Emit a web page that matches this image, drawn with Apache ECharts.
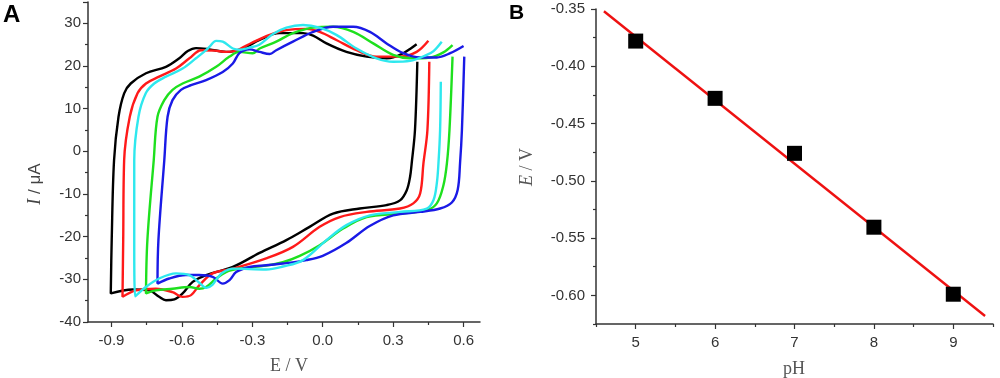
<!DOCTYPE html>
<html>
<head>
<meta charset="utf-8">
<script src="https://cdn.jsdelivr.net/npm/echarts@6/dist/echarts.min.js"></script>
<style>
html,body{margin:0;padding:0;background:#fff;}
#chart{width:1000px;height:378px;}
</style>
</head>
<body>
<div id="chart"></div>
<script>
// ---------- Panel A: cyclic voltammograms (E / V, I / uA) ----------
var cvBlack = [[0.40,25.1],[0.372,24.0],[0.343,23.0],[0.30,22.0],[0.272,21.8],[0.187,22.2],[0.101,23.3],[0.016,25.3],[-0.041,27.1],[-0.084,27.7],[-0.184,27.7],[-0.269,26.1],[-0.34,24.1],[-0.412,23.3],[-0.483,23.9],[-0.54,24.2],[-0.575,23.5],[-0.611,21.8],[-0.668,19.8],[-0.753,18.3],[-0.818,15.9],[-0.846,13.6],[-0.87,8.1],[-0.889,-2.1],[-0.899,-20.8],[-0.903,-33.3],
  [-0.81,-32.4],[-0.739,-32.6],[-0.697,-34.1],[-0.668,-34.9],[-0.632,-34.7],[-0.597,-33.3],[-0.554,-30.6],[-0.497,-29.0],[-0.383,-27.1],[-0.269,-23.8],[-0.155,-20.8],[-0.056,-17.7],[0.044,-14.6],[0.158,-13.4],[0.272,-12.6],[0.329,-11.5],[0.358,-9.1],[0.372,-6.0],[0.379,-2.8],[0.393,5.0],[0.403,21.0]];
var cvRed = [[0.45,25.9],[0.40,23.3],[0.329,22.2],[0.229,22.2],[0.144,23.7],[0.058,26.1],[-0.013,28.0],[-0.07,28.7],[-0.155,28.4],[-0.226,27.3],[-0.30,25.5],[-0.369,23.6],[-0.412,23.3],[-0.46,23.6],[-0.518,23.7],[-0.568,21.8],[-0.625,19.4],[-0.697,17.5],[-0.753,15.9],[-0.789,13.6],[-0.822,8.1],[-0.846,-2.1],[-0.85,-20.8],[-0.853,-34.1],
  [-0.796,-32.6],[-0.711,-32.2],[-0.64,-33.0],[-0.597,-34.1],[-0.561,-33.7],[-0.526,-31.4],[-0.469,-28.6],[-0.383,-27.5],[-0.241,-25.1],[-0.127,-22.4],[-0.013,-17.7],[0.073,-15.4],[0.187,-14.2],[0.329,-13.4],[0.386,-12.2],[0.415,-9.9],[0.429,-2.8],[0.446,5.0],[0.454,21.0]];
var cvGreen = [[0.553,24.9],[0.514,23.2],[0.457,22.0],[0.372,21.8],[0.30,22.6],[0.215,25.3],[0.13,28.0],[0.044,29.2],[-0.041,29.0],[-0.127,27.7],[-0.198,25.7],[-0.269,24.1],[-0.298,23.0],[-0.355,23.3],[-0.397,22.2],[-0.454,19.8],[-0.526,17.5],[-0.597,15.9],[-0.64,14.4],[-0.675,12.0],[-0.704,8.1],[-0.72,-2.1],[-0.747,-20.8],[-0.753,-33.3],
  [-0.711,-32.6],[-0.64,-32.2],[-0.568,-31.8],[-0.526,-32.2],[-0.497,-31.8],[-0.454,-29.8],[-0.412,-28.3],[-0.355,-27.5],[-0.241,-26.8],[-0.17,-26.0],[-0.098,-24.5],[-0.013,-22.0],[0.087,-18.1],[0.187,-15.4],[0.329,-14.6],[0.443,-13.8],[0.486,-12.2],[0.514,-8.0],[0.529,-2.8],[0.54,5.0],[0.553,22.2]];
var cvBlue = [[0.60,24.7],[0.543,23.0],[0.486,22.0],[0.415,22.0],[0.343,23.0],[0.272,25.3],[0.201,28.0],[0.13,29.2],[0.044,29.2],[-0.041,28.0],[-0.127,25.7],[-0.198,23.7],[-0.226,22.8],[-0.269,23.3],[-0.312,23.9],[-0.355,23.0],[-0.383,20.6],[-0.426,18.6],[-0.497,16.7],[-0.561,15.5],[-0.604,14.4],[-0.64,12.0],[-0.661,8.1],[-0.675,-2.1],[-0.70,-20.8],[-0.704,-31.0],
  [-0.654,-29.8],[-0.583,-29.0],[-0.526,-29.0],[-0.469,-29.4],[-0.426,-31.0],[-0.397,-30.2],[-0.369,-28.3],[-0.312,-27.1],[-0.241,-26.7],[-0.17,-26.3],[-0.07,-25.5],[0.0,-24.5],[0.1,-21.5],[0.2,-17.5],[0.3,-15.0],[0.415,-14.2],[0.50,-13.4],[0.55,-12.0],[0.575,-9.0],[0.585,-2.8],[0.593,5.0],[0.603,22.2]];
var cvCyan = [[0.507,25.7],[0.472,23.5],[0.443,22.6],[0.372,21.2],[0.30,21.0],[0.229,21.8],[0.144,24.1],[0.058,27.3],[-0.013,29.0],[-0.084,29.6],[-0.155,29.0],[-0.212,27.5],[-0.27,25.0],[-0.312,24.3],[-0.355,23.8],[-0.383,24.1],[-0.426,25.7],[-0.454,25.9],[-0.483,24.5],[-0.497,23.7],[-0.54,21.8],[-0.597,19.4],[-0.668,17.5],[-0.718,15.9],[-0.754,13.6],[-0.785,8.1],[-0.803,-2.1],[-0.803,-20.8],[-0.799,-34.0],
  [-0.754,-31.8],[-0.697,-29.8],[-0.625,-28.6],[-0.568,-29.0],[-0.526,-30.8],[-0.495,-32.0],[-0.47,-31.3],[-0.45,-29.8],[-0.426,-28.4],[-0.383,-27.5],[-0.241,-27.7],[-0.17,-27.0],[-0.084,-25.5],[0.016,-20.8],[0.101,-17.3],[0.201,-15.0],[0.329,-14.2],[0.443,-13.4],[0.472,-11.4],[0.486,-7.5],[0.493,-2.8],[0.50,5.0],[0.503,16.3]];

var aXTicks = [-0.9, -0.6, -0.3, 0.0, 0.3, 0.6];
var aXMinorTicks = [-0.75, -0.45, -0.15, 0.15, 0.45];

// ---------- Panel B: peak potential vs pH ----------
var pH = [5, 6, 7, 8, 9];
var peakE = [-0.378, -0.428, -0.476, -0.5405, -0.599];
var fitLine = [[4.6, -0.352], [9.4, -0.618]];
var bXTicks = [5, 6, 7, 8, 9];
var bXMinorTicks = [4.5, 5.5, 6.5, 7.5, 8.5, 9.5];
var bYTicks = [-0.35, -0.40, -0.45, -0.50, -0.55, -0.60];
var bYMinorTicks = [-0.375, -0.425, -0.475, -0.525, -0.575, -0.625];

var axisColor = '#333';
var labelFont = {fontFamily: 'Liberation Sans, Arial, sans-serif', fontSize: 15, color: '#333'};

function mainAxis(gridIndex, min, max, labels, fmt, margin, extra) {
  var o = {
    type: 'value', gridIndex: gridIndex, min: min, max: max,
    axisLine: {show: true, onZero: false, lineStyle: {color: axisColor, width: 1.5}},
    axisTick: {show: true, customValues: labels, length: 5, lineStyle: {color: axisColor, width: 1.2}},
    axisLabel: Object.assign({customValues: labels, formatter: fmt, margin: margin}, labelFont),
    splitLine: {show: false}
  };
  return Object.assign(o, extra || {});
}
function minorAxis(gridIndex, min, max, ticks, pos) {
  return {
    type: 'value', gridIndex: gridIndex, min: min, max: max, position: pos,
    axisLine: {show: false, onZero: false},
    axisTick: {show: true, customValues: ticks, length: 3, lineStyle: {color: axisColor, width: 1.2}},
    axisLabel: {show: false},
    splitLine: {show: false}
  };
}

var chart = echarts.init(document.getElementById('chart'), null, {renderer: 'canvas'});
function cv(name, data, color) {
  return {name: name, type: 'line', xAxisIndex: 0, yAxisIndex: 0, data: data, smooth: 0.35,
    showSymbol: false, symbol: 'none', lineStyle: {color: color, width: 2.4}};
}

chart.setOption({
  animation: false,
  backgroundColor: '#fff',
  grid: [
    {left: 88, top: 2, width: 392, height: 320},
    {left: 596, top: 9, width: 397, height: 315}
  ],
  xAxis: [
    mainAxis(0, -1.0, 0.67, aXTicks, function (v) { return v.toFixed(1); }, 11, {position: 'bottom'}),
    minorAxis(0, -1.0, 0.67, aXMinorTicks, 'bottom'),
    mainAxis(1, 4.5, 9.5, bXTicks, function (v) { return String(v); }, 11, {position: 'bottom'}),
    minorAxis(1, 4.5, 9.5, bXMinorTicks, 'bottom')
  ],
  yAxis: [
    {
      type: 'value', gridIndex: 0, min: -40, max: 35, interval: 10,
      axisLine: {show: true, onZero: false, lineStyle: {color: axisColor, width: 1.5}},
      axisTick: {show: true, length: 5, lineStyle: {color: axisColor, width: 1.2}},
      minorTick: {show: true, splitNumber: 2, length: 3, lineStyle: {color: axisColor, width: 1.2}},
      axisLabel: Object.assign({margin: 7, showMaxLabel: false}, labelFont),
      splitLine: {show: false}
    },
    mainAxis(1, -0.625, -0.35, bYTicks, function (v) { return v.toFixed(2); }, 11, {position: 'left'}),
    minorAxis(1, -0.625, -0.35, bYMinorTicks, 'left')
  ],
  series: [
    cv('black', cvBlack, '#000000'),
    cv('red', cvRed, '#ff1a1a'),
    cv('green', cvGreen, '#1ee01e'),
    cv('blue', cvBlue, '#1a1ae6'),
    cv('cyan', cvCyan, '#2ee8ee'),
    {
      name: 'fit', type: 'line', xAxisIndex: 2, yAxisIndex: 1, data: fitLine,
      showSymbol: false, symbol: 'none', lineStyle: {color: '#ee1111', width: 2.4}, z: 2
    },
    {
      name: 'Ep', type: 'scatter', xAxisIndex: 2, yAxisIndex: 1,
      data: pH.map(function (p, i) { return [p, peakE[i]]; }),
      symbol: 'rect', symbolSize: 15, itemStyle: {color: '#000', opacity: 1}, z: 3
    }
  ],
  graphic: [
    {type: 'text', left: 3, top: 3, style: {text: 'A', font: 'bold 24px "Liberation Sans", Arial, sans-serif', fill: '#000'}},
    {type: 'text', left: 509, top: 3, style: {text: 'B', font: 'bold 21px "Liberation Sans", Arial, sans-serif', fill: '#000'}},
    {type: 'text', x: 35, y: 184, rotation: Math.PI / 2,
      style: {text: '{i|I} / μA', fill: '#444', align: 'center', verticalAlign: 'middle',
        font: '17px "Liberation Sans", Arial, sans-serif',
        rich: {i: {fontStyle: 'italic', fontFamily: 'Liberation Serif', fontSize: 18, fill: '#444'}}}},
    {type: 'text', x: 289, y: 366,
      style: {text: 'E / V', fill: '#555', align: 'center', verticalAlign: 'middle',
        font: '18px "Liberation Serif", "Times New Roman", serif'}},
    {type: 'text', x: 527, y: 167, rotation: Math.PI / 2,
      style: {text: '{i|E} / V', fill: '#555', align: 'center', verticalAlign: 'middle',
        font: '18px "Liberation Serif", "Times New Roman", serif',
        rich: {i: {fontStyle: 'italic', fontFamily: 'Liberation Serif', fontSize: 18, fill: '#555'}}}},
    {type: 'text', x: 794, y: 369,
      style: {text: 'pH', fill: '#555', align: 'center', verticalAlign: 'middle',
        font: '18px "Liberation Serif", "Times New Roman", serif'}}
  ]
});
</script>
</body>
</html>
